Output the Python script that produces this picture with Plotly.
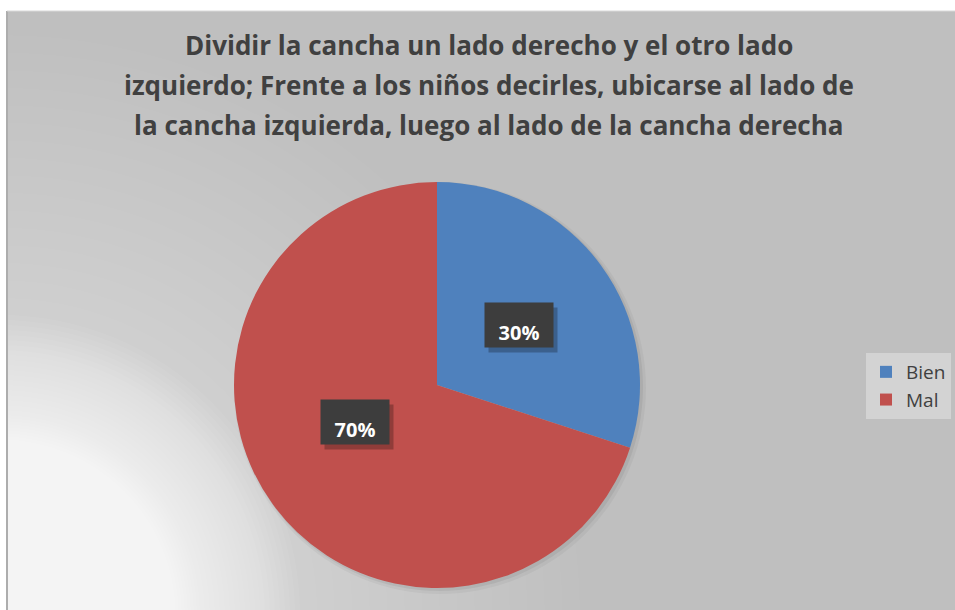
import math
import plotly.graph_objects as go

W, H = 955, 610

title_lines = [
    "Dividir la cancha un lado derecho y el otro lado",
    "izquierdo; Frente a los niños decirles, ubicarse al lado de",
    "la cancha izquierda, luego al lado de la cancha derecha",
]
labels = ["Bien", "Mal"]
values = [30, 70]
colors = ["#4F81BD", "#C0504D"]

FONT = "Open Sans, Lato, sans-serif"


def px(x):
    return x / W


def py(y):
    return 1 - y / H


# pie geometry in pixels
cx, cy, R = 437, 385, 203

shapes = []
# chart area frame
shapes.append(dict(type="rect", xref="paper", yref="paper", layer="below",
                   x0=px(7), x1=px(990), y0=py(640), y1=py(11),
                   fillcolor="#BFBFBF", line=dict(width=0)))

# soft light glow from the bottom-left corner: (outer radius, inner radius, circles, alpha)
glow_bands = [(580, 300, 16, 0.025), (300, 200, 20, 0.06), (200, 140, 20, 0.08)]
for r_out, r_in, k, a in glow_bands:
    for j in range(k):
        r = r_out - (r_out - r_in) * j / k
        shapes.append(dict(type="circle", xref="paper", yref="paper", layer="below",
                           x0=px(0 - r), x1=px(0 + r), y0=py(615 + r), y1=py(615 - r),
                           fillcolor=f"rgba(255,255,255,{a})", line=dict(width=0)))
# pie shadow
for off, rr, a in [(3, 206, 0.04), (2, 204, 0.06)]:
    shapes.append(dict(type="circle", xref="paper", yref="paper", layer="below",
                       x0=px(cx + off - rr), x1=px(cx + off + rr),
                       y0=py(cy + off + rr), y1=py(cy + off - rr),
                       fillcolor=f"rgba(0,0,0,{a})", line=dict(width=0)))
# frame edges
shapes.append(dict(type="line", xref="paper", yref="paper", layer="above",
                   x0=px(7), x1=px(7), y0=0, y1=py(11),
                   line=dict(color="#ADADAD", width=2)))
shapes.append(dict(type="line", xref="paper", yref="paper", layer="above",
                   x0=px(7), x1=1, y0=py(11), y1=py(11),
                   line=dict(color="#D9D9D9", width=1)))

annotations = []
for i, line in enumerate(title_lines):
    annotations.append(dict(
        text=f"<b>{line}</b>", x=px(489), y=py(45 + 40 * i), xref="paper", yref="paper",
        xanchor="center", yanchor="middle", showarrow=False,
        font=dict(family=FONT, size=26, color="#404040"),
    ))

# data labels in dark boxes at half radius of each slice
total = sum(values)
cum = 0
for v in values:
    mid = (cum + v / 2) / total
    cum += v
    th = 2 * math.pi * mid
    lx = cx + 0.5 * R * math.sin(th)
    ly = cy - 0.5 * R * math.cos(th)
    annotations.append(dict(
        text=" ", x=px(lx + 4), y=py(ly + 5), xref="paper", yref="paper",
        showarrow=False, width=66, height=42, bgcolor="rgba(0,0,0,0.25)",
        font=dict(size=20),
    ))
    annotations.append(dict(
        text=f"<b>{round(100 * v / total)}%</b>", x=px(lx), y=py(ly), xref="paper", yref="paper",
        showarrow=False, width=66, height=42, bgcolor="#3D3D3D", valign="bottom",
        font=dict(family=FONT, size=20, color="white"),
    ))

fig = go.Figure(go.Pie(
    labels=labels,
    values=values,
    marker=dict(colors=colors, line=dict(width=0)),
    sort=False,
    direction="clockwise",
    rotation=0,
    textinfo="none",
    domain=dict(x=[px(cx - R), px(cx + R)], y=[py(cy + R), py(cy - R)]),
))

fig.update_layout(
    width=W,
    height=H,
    margin=dict(l=0, r=0, t=0, b=0),
    paper_bgcolor="white",
    plot_bgcolor="white",
    shapes=shapes,
    annotations=annotations,
    showlegend=True,
    legend=dict(
        x=px(866), y=py(386), xanchor="left", yanchor="middle",
        bgcolor="#D3D3D3", borderwidth=0,
        font=dict(family=FONT, size=19, color="#404040"),
        itemwidth=30,
    ),
)

fig.write_html("out.html", config={"displayModeBar": False},
               post_script="document.body.style.margin='0';")
